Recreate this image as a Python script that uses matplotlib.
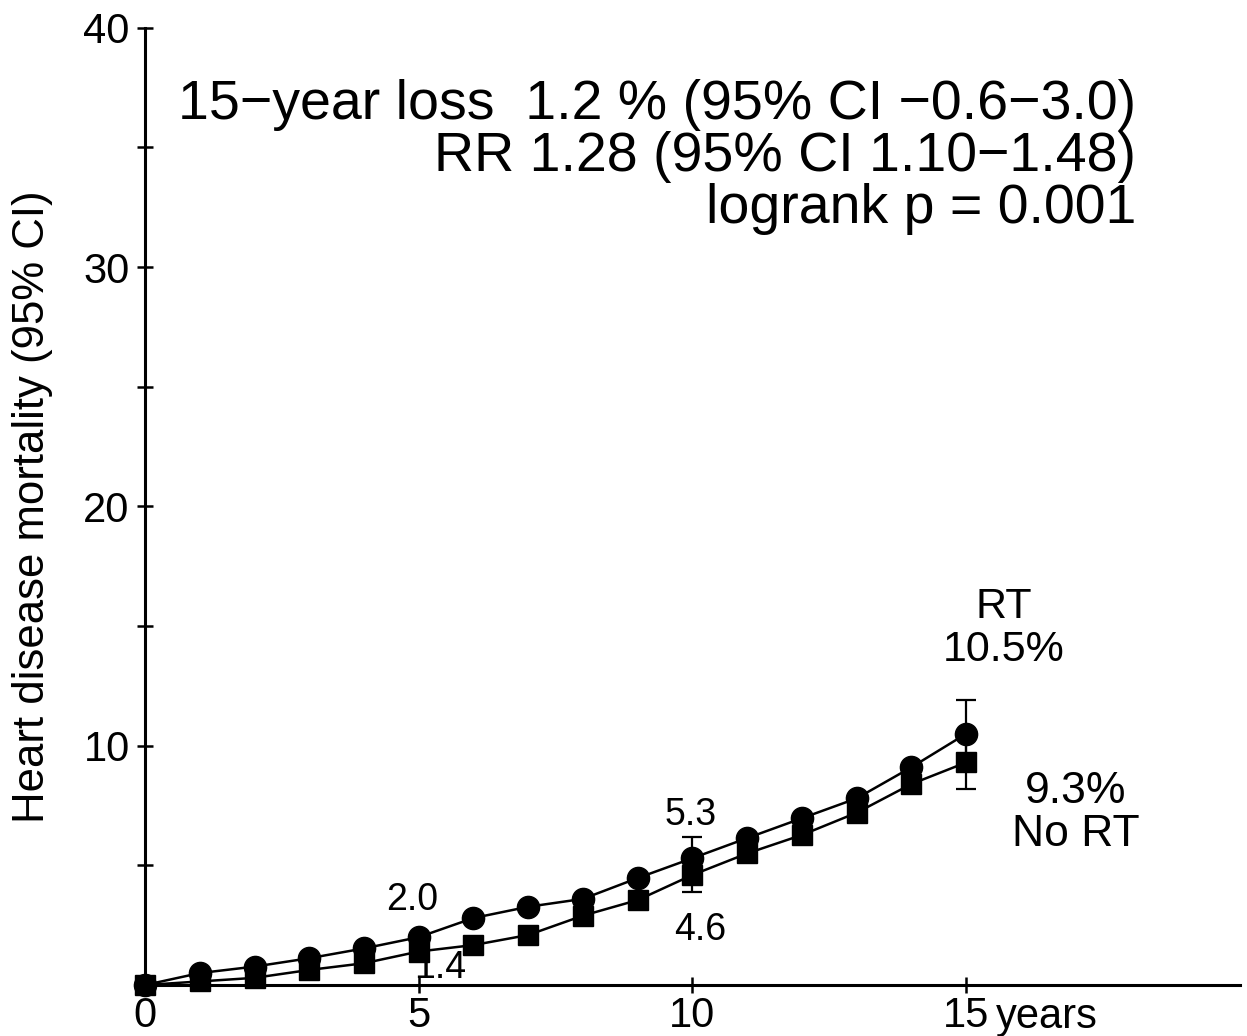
import numpy as np
import matplotlib
matplotlib.use('Agg')
import matplotlib.pyplot as plt
from matplotlib.ticker import FixedLocator

plt.rcParams['font.family'] = ['Liberation Sans', 'DejaVu Sans']

years = [0, 1, 2, 3, 4, 5, 6, 7, 8, 9, 10, 11, 12, 13, 14, 15]
rt = [0.0, 0.5, 0.77, 1.12, 1.53, 2.0, 2.8, 3.27, 3.6, 4.47, 5.3, 6.14, 6.97, 7.8, 9.1, 10.5]
no_rt = [0.0, 0.15, 0.3, 0.63, 0.91, 1.4, 1.67, 2.09, 2.9, 3.55, 4.6, 5.5, 6.27, 7.2, 8.4, 9.3]

ci_years = [10, 15]
rt_lo = [4.5, 9.2]
rt_hi = [6.2, 11.9]
nort_lo = [3.9, 8.2]
nort_hi = [5.3, 10.5]

stats_text = ('15\u2212year loss  1.2 % (95% CI \u22120.6\u22123.0)\n'
              'RR 1.28 (95% CI 1.10\u22121.48)\n'
              'logrank p = 0.001')

fig = plt.figure(figsize=(12.47, 10.36), dpi=100)
ax = fig.add_axes([0.1163, 0.0492, 0.878, 0.924])

ax.plot(years, rt, color='black', lw=1.8, marker='o', ms=16, clip_on=False, zorder=3)
ax.plot(years, no_rt, color='black', lw=1.8, marker='s', ms=15, clip_on=False, zorder=3)

for i, yr in enumerate(ci_years):
    j = years.index(yr)
    ax.errorbar([yr], [rt[j]], yerr=[[rt[j] - rt_lo[i]], [rt_hi[i] - rt[j]]],
                fmt='none', ecolor='black', elinewidth=1.6, capsize=7, capthick=1.6, zorder=2)
    ax.errorbar([yr], [no_rt[j]], yerr=[[no_rt[j] - nort_lo[i]], [nort_hi[i] - no_rt[j]]],
                fmt='none', ecolor='black', elinewidth=1.6, capsize=7, capthick=1.6, zorder=2)

ax.set_xlim(0, 20)
ax.set_ylim(0, 40)
for s in ['top', 'right']:
    ax.spines[s].set_visible(False)
for s in ['left', 'bottom']:
    ax.spines[s].set_linewidth(2.2)

ax.set_xticks([0, 5, 10, 15])
ax.set_xticklabels(['0', '5', '10', '15'])
ax.set_yticks([10, 20, 30, 40])
ax.yaxis.set_minor_locator(FixedLocator([5, 15, 25, 35]))
ax.tick_params(which='both', direction='inout', length=12, width=1.8, labelsize=30)
ax.tick_params(axis='y', pad=5)
ax.tick_params(axis='x', pad=2)

ax.text(15.55, -0.012, 'years', transform=ax.get_xaxis_transform(),
        fontsize=30, ha='left', va='top')

ax.set_ylabel('Heart disease mortality (95% CI)', fontsize=31.5, labelpad=22)

ax.text(18.1, 37.85, stats_text, ha='right', va='top', fontsize=40, linespacing=1.0)

ax.text(4.88, 3.55, '2.0', ha='center', va='center', fontsize=27)
ax.text(5.4, 0.71, '1.4', ha='center', va='center', fontsize=27)
ax.text(9.97, 7.1, '5.3', ha='center', va='center', fontsize=27)
ax.text(10.15, 2.3, '4.6', ha='center', va='center', fontsize=27)
ax.text(15.68, 14.9, 'RT\n10.5%', ha='center', va='center', fontsize=31, linespacing=1.1)
ax.text(17.0, 7.2, '9.3%\nNo RT', ha='center', va='center', fontsize=32, linespacing=1.05)

fig.savefig('out.png', dpi=100)
